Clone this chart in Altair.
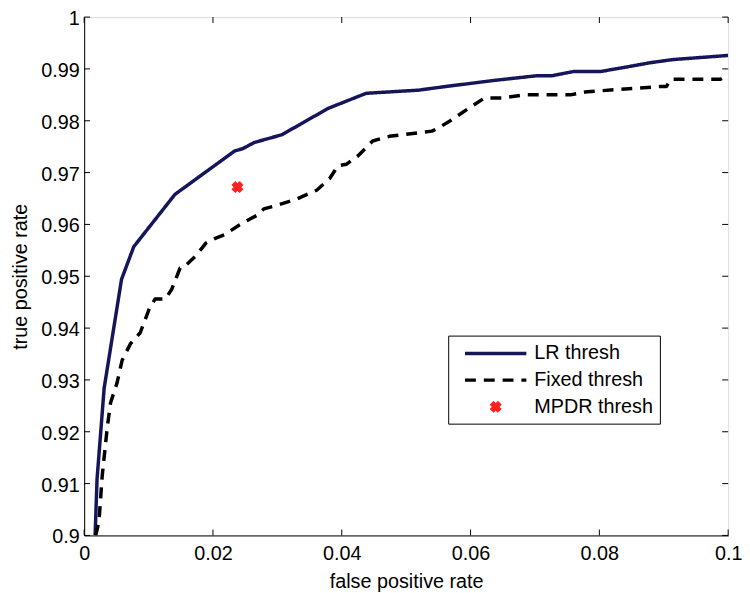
import altair as alt
import pandas as pd

# ---- data ----
lr_fpr = [0.0017, 0.0020, 0.0026, 0.0031, 0.0058, 0.0077, 0.0141, 0.0234, 0.0246,
          0.0264, 0.0307, 0.0379, 0.0438, 0.0519, 0.0561, 0.0638, 0.0704, 0.0727,
          0.0760, 0.0802, 0.0848, 0.0879, 0.0914, 0.1000]
lr_tpr = [0.9000, 0.9109, 0.9204, 0.9284, 0.9494, 0.9557, 0.9658, 0.9742, 0.9746,
          0.9758, 0.9773, 0.9824, 0.9853, 0.9859, 0.9866, 0.9878, 0.9887, 0.9887,
          0.9895, 0.9895, 0.9905, 0.9912, 0.9918, 0.9926]

fixed_fpr = [0.0018, 0.0023, 0.0028, 0.0036, 0.0041, 0.0051, 0.0059, 0.0072, 0.0087,
             0.0101, 0.0110, 0.0126, 0.0136, 0.0143, 0.0149, 0.0156, 0.0172, 0.0177,
             0.0189, 0.0197, 0.0218, 0.0225, 0.0241, 0.0254, 0.0269, 0.0279, 0.0300,
             0.0330, 0.0361, 0.0381, 0.0394, 0.0407, 0.0425, 0.0448, 0.0474, 0.0520,
             0.0540, 0.0550, 0.0571, 0.0597, 0.0622, 0.0648, 0.0684, 0.0755, 0.0781,
             0.0894, 0.0904, 0.0911, 0.0988, 0.1000]
fixed_tpr = [0.9000, 0.9027, 0.9115, 0.9210, 0.9256, 0.9294, 0.9338, 0.9370, 0.9391,
             0.9437, 0.9456, 0.9456, 0.9475, 0.9497, 0.9516, 0.9519, 0.9538, 0.9545,
             0.9564, 0.9570, 0.9580, 0.9586, 0.9599, 0.9608, 0.9618, 0.9630, 0.9637,
             0.9649, 0.9666, 0.9688, 0.9713, 0.9716, 0.9732, 0.9761, 0.9770, 0.9777,
             0.9780, 0.9786, 0.9802, 0.9824, 0.9844, 0.9844, 0.9850, 0.9850, 0.9856,
             0.9866, 0.9866, 0.9880, 0.9880, 0.9888]

mpdr_fpr = [0.0238]
mpdr_tpr = [0.9672]

series_names = ["LR thresh", "Fixed thresh", "MPDR thresh"]
series_colors = ["#15155c", "#000000", "#ff2020"]

x_ticks = [0, 0.02, 0.04, 0.06, 0.08, 0.1]
y_ticks = [0.9, 0.91, 0.92, 0.93, 0.94, 0.95, 0.96, 0.97, 0.98, 0.99, 1.0]

# ---- tables ----
lines_df = pd.concat([
    pd.DataFrame({"fpr": lr_fpr, "tpr": lr_tpr, "series": series_names[0],
                  "idx": range(len(lr_fpr))}),
    pd.DataFrame({"fpr": fixed_fpr, "tpr": fixed_tpr, "series": series_names[1],
                  "idx": range(len(fixed_fpr))}),
], ignore_index=True)
point_df = pd.DataFrame({"fpr": mpdr_fpr, "tpr": mpdr_tpr, "series": series_names[2]})
xt_df = pd.DataFrame({"v": x_ticks})
yt_df = pd.DataFrame({"v": y_ticks})

W, H = 651, 524
FONT = "Liberation Sans"
FS = 20

xscale = alt.Scale(domain=[0, 0.1], nice=False, zero=False)
yscale = alt.Scale(domain=[0.9, 1.0], nice=False, zero=False)

xaxis = alt.Axis(values=x_ticks, format="~g", title="false positive rate", grid=False,
                 ticks=False, labelPadding=8, titlePadding=9, labelFontSize=FS,
                 titleFontSize=FS, labelFont=FONT, titleFont=FONT,
                 titleFontWeight="normal", labelColor="black", titleColor="black",
                 domainColor="black", labelFlush=False)
yaxis = alt.Axis(values=y_ticks, format="~g", title="true positive rate", grid=False,
                 ticks=False, labelPadding=5, titlePadding=10, labelFontSize=FS,
                 titleFontSize=FS, labelFont=FONT, titleFont=FONT,
                 titleFontWeight="normal", labelColor="black", titleColor="black",
                 domainColor="black", labelFlush=False, labelOffset=1.5)

STROKE_PATH = "M-3.1,0H3.1"
X_PATH = ("M-0.36,-0.22L-0.22,-0.36L0,-0.14L0.22,-0.36L0.36,-0.22L0.14,0"
          "L0.36,0.22L0.22,0.36L0,0.14L-0.22,0.36L-0.36,0.22L-0.14,0Z")

legend = alt.Legend(
    title=None, orient="none", legendX=368, legendY=322,
    padding=6, rowPadding=5, strokeColor="black", fillColor="white",
    labelFont=FONT, labelFontSize=FS, labelColor="black", labelLimit=400,
    symbolSize=400, symbolOffset=30, labelOffset=27, symbolStrokeWidth=3.5,
    symbolOpacity=1,
)

color = alt.Color("series:N", scale=alt.Scale(domain=series_names, range=series_colors),
                  legend=legend)
dash = alt.StrokeDash("series:N",
                      scale=alt.Scale(domain=series_names, range=[[1, 0], [11, 8], [1, 0]]),
                      legend=legend)
shape = alt.Shape("series:N",
                  scale=alt.Scale(domain=series_names, range=[STROKE_PATH, STROKE_PATH, X_PATH]),
                  legend=legend)

lines = alt.Chart(lines_df).mark_line(strokeWidth=3.5, clip=True, strokeJoin="round").encode(
    x=alt.X("fpr:Q", scale=xscale, axis=xaxis),
    y=alt.Y("tpr:Q", scale=yscale, axis=yaxis),
    color=color,
    strokeDash=dash,
    order=alt.Order("idx:Q"),
)

point = alt.Chart(point_df).mark_point(filled=True, size=400, opacity=1,
                                       stroke=series_colors[2], strokeWidth=3.5).encode(
    x=alt.X("fpr:Q", scale=xscale),
    y=alt.Y("tpr:Q", scale=yscale),
    color=color,
    shape=shape,
)

tick_len = 6
xt_bottom = alt.Chart(xt_df).mark_rule(color="black", strokeWidth=1).encode(
    x=alt.X("v:Q", scale=xscale), y=alt.value(H), y2=alt.value(H - tick_len))
xt_top = alt.Chart(xt_df).mark_rule(color="black", strokeWidth=1).encode(
    x=alt.X("v:Q", scale=xscale), y=alt.value(0), y2=alt.value(tick_len))
yt_left = alt.Chart(yt_df).mark_rule(color="black", strokeWidth=1).encode(
    y=alt.Y("v:Q", scale=yscale), x=alt.value(0), x2=alt.value(tick_len))
yt_right = alt.Chart(yt_df).mark_rule(color="black", strokeWidth=1).encode(
    y=alt.Y("v:Q", scale=yscale), x=alt.value(W), x2=alt.value(W - tick_len))

chart = alt.layer(xt_bottom, xt_top, yt_left, yt_right, lines, point).properties(
    width=W, height=H,
    autosize=alt.AutoSizeParams(type="none"),
    padding={"left": 77, "top": 6, "right": 14, "bottom": 54},
).configure_view(stroke="black", strokeWidth=1).configure(background="white")

chart.save("out.html", embed_options={"renderer": "svg", "actions": False})
